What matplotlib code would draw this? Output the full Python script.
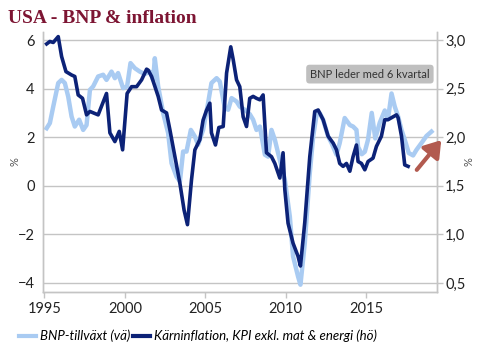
import matplotlib
matplotlib.use("Agg")
import matplotlib.pyplot as plt
from matplotlib.ticker import FuncFormatter

# BNP-tillväxt (vänster axel, %), förskjuten 6 kvartal framåt
bnp_years = [1995.14, 1995.34, 1995.55, 1995.86, 1996.07, 1996.27, 1996.48, 1996.69, 1996.89,
             1997.16, 1997.41, 1997.62, 1997.83, 1998.03, 1998.34, 1998.65, 1998.86, 1999.17,
             1999.38, 1999.58, 1999.89, 2000.14, 2000.35, 2000.62, 2000.93, 2001.24, 2001.55,
             2001.76, 2001.86, 2002.07, 2002.38, 2002.69, 2002.90, 2003.21, 2003.42, 2003.62,
             2003.83, 2004.10, 2004.35, 2004.55, 2004.86, 2005.17, 2005.38, 2005.70, 2005.90,
             2006.21, 2006.42, 2006.63, 2006.94, 2007.14, 2007.45, 2007.76, 2007.97, 2008.18,
             2008.39, 2008.70, 2008.90, 2009.11, 2009.32, 2009.52, 2009.73, 2009.94, 2010.25,
             2010.45, 2010.76, 2010.91, 2011.18, 2011.49, 2011.70, 2011.91, 2012.11, 2012.32,
             2012.63, 2012.84, 2013.15, 2013.35, 2013.66, 2013.98, 2014.18, 2014.39, 2014.49,
             2014.72, 2014.91, 2015.11, 2015.34, 2015.56, 2015.84, 2016.15, 2016.35, 2016.57,
             2016.77, 2016.98, 2017.19, 2017.39, 2017.64, 2017.91, 2018.12, 2018.43, 2018.74,
             2019.05]
bnp = [2.37, 2.58, 3.26, 4.23, 4.36, 4.23, 3.67, 2.85, 2.44,
       2.72, 2.30, 2.50, 3.95, 4.09, 4.50, 4.57, 4.36, 4.70,
       4.43, 4.64, 4.02, 4.09, 5.05, 4.84, 4.70, 4.60, 4.70,
       4.36, 5.25, 4.09, 2.99, 2.17, 0.93, 0.38, 0.18, 1.41,
       1.41, 2.30, 2.03, 1.69, 2.30, 3.40, 4.23, 4.43, 4.29,
       3.20, 3.13, 3.61, 3.47, 3.26, 3.13, 2.95, 2.72, 2.30,
       2.44, 1.28, 1.20, 2.30, 1.90, 1.35, 0.80, 0.25, -1.26,
       -2.90, -3.73, -4.07, -2.36, 0.52, 2.03, 2.92, 2.99, 2.72,
       2.03, 1.76, 1.28, 1.76, 2.79, 2.50, 2.44, 2.30, 1.60,
       1.30, 1.40, 1.90, 3.00, 1.95, 2.60, 3.10, 2.75, 3.80,
       3.26, 2.85, 2.30, 1.90, 1.35, 1.25, 1.48, 1.76, 2.05,
       2.23]

# Kärninflation, KPI exkl. mat & energi (höger axel, %)
kpi_years = [1995.14, 1995.34, 1995.55, 1995.86, 1996.07, 1996.34, 1996.69, 1996.89, 1997.10,
             1997.37, 1997.62, 1997.83, 1998.34, 1998.86, 1999.07, 1999.38, 1999.65, 1999.86,
             2000.14, 2000.42, 2000.73, 2001.04, 2001.35, 2001.45, 2001.66, 2002.07, 2002.28,
             2002.59, 2002.80, 2003.11, 2003.42, 2003.68, 2003.89, 2004.14, 2004.35, 2004.66,
             2004.86, 2005.07, 2005.28, 2005.38, 2005.63, 2005.84, 2006.11, 2006.32, 2006.58,
             2006.73, 2006.94, 2007.14, 2007.35, 2007.56, 2007.76, 2007.97, 2008.18, 2008.39,
             2008.59, 2008.80, 2009.11, 2009.32, 2009.63, 2009.83, 2009.94, 2010.14, 2010.45,
             2010.76, 2010.91, 2011.18, 2011.49, 2011.80, 2012.01, 2012.32, 2012.63, 2012.94,
             2013.15, 2013.35, 2013.56, 2013.77, 2013.98, 2014.18, 2014.39, 2014.49, 2014.70,
             2014.91, 2015.11, 2015.42, 2015.63, 2015.94, 2016.15, 2016.35, 2016.88, 2016.98,
             2017.19, 2017.39, 2017.60]
kpi = [2.960, 2.985, 2.975, 3.035, 2.830, 2.675, 2.640, 2.625, 2.435,
       2.400, 2.230, 2.265, 2.230, 2.450, 2.045, 1.955, 2.060, 1.870,
       2.450, 2.520, 2.520, 2.590, 2.700, 2.690, 2.625, 2.420, 2.280,
       2.250, 2.075, 1.800, 1.525, 1.250, 1.100, 1.560, 1.870, 1.975,
       2.175, 2.275, 2.350, 2.045, 1.920, 2.100, 2.110, 2.660, 2.930,
       2.800, 2.590, 2.520, 2.210, 2.110, 2.400, 2.420, 2.400, 2.385,
       2.435, 1.840, 1.800, 1.730, 1.580, 1.840, 1.460, 1.115, 0.910,
       0.775, 0.675, 1.125, 1.800, 2.265, 2.280, 2.180, 2.010, 1.940,
       1.870, 1.730, 1.700, 1.730, 1.650, 1.800, 1.920, 1.750, 1.730,
       1.665, 1.750, 1.785, 1.905, 2.010, 2.180, 2.180, 2.230, 2.200,
       2.010, 1.715, 1.700]

x_ticks = [1995, 2000, 2005, 2010, 2015]
left_ticks = [-4, -2, 0, 2, 4, 6]
right_ticks = [0.5, 1.0, 1.5, 2.0, 2.5, 3.0]

light = "#A9CBF2"
navy = "#0C2277"
grid = "#C4C4C4"
txt = "#222222"

plt.rcParams["font.family"] = ["Lato", "DejaVu Sans"]

fig = plt.figure(figsize=(4.88, 3.58), dpi=100)
ax = fig.add_axes([0.088, 0.1844, 0.807, 0.7262])
ax2 = ax.twinx()

ax.set_xlim(1994.91, 2019.38)
ax.set_ylim(-4.37, 6.33)
ax2.set_ylim(1.5 + (-4.37) / 4, 1.5 + 6.33 / 4)

ax.plot(bnp_years, bnp, color=light, lw=3.2, solid_joinstyle="round", zorder=2)
ax2.plot(kpi_years, kpi, color=navy, lw=2.6, solid_joinstyle="round", zorder=3)

ax.set_yticks(left_ticks)
ax2.set_yticks(right_ticks)
ax.set_xticks(x_ticks)
ax.grid(axis="y", color=grid, lw=1.0)
ax.set_axisbelow(True)

ax2.yaxis.set_major_formatter(FuncFormatter(lambda v, p: f"{v:.1f}".replace(".", ",")))

for a in (ax, ax2):
    a.spines["top"].set_visible(False)
    for s in ("left", "right", "bottom"):
        a.spines[s].set_color(grid)
        a.spines[s].set_linewidth(1.0)
    a.tick_params(colors=txt, labelsize=10.5, length=4, width=1.0)
    a.tick_params(axis="both", color=grid)
ax.tick_params(axis="y", length=0, pad=6)
ax2.tick_params(axis="y", length=4, pad=2)
ax.tick_params(axis="x", length=4, pad=3)

# enhetsetiketter på båda sidor
fig.text(15 / 488, 1 - 162 / 358, "%", color="#555555", fontsize=8, rotation=90,
         ha="center", va="center")
fig.text(469 / 488, 1 - 162 / 358, "%", color="#555555", fontsize=8, rotation=90,
         ha="center", va="center")

fig.text(0.016, 0.947, "USA - BNP & inflation", color="#7D1533", fontsize=14,
         fontweight="bold", family=["Liberation Serif", "DejaVu Serif"], va="center", ha="left")

ax.text(0.758, 0.793, "BNP leder med 6 kvartal", transform=fig.transFigure, ha="center",
        va="center", fontsize=8, color="#333333",
        bbox=dict(boxstyle="round,pad=0.35,rounding_size=0.3", fc="#BFBFBF", ec="none"))

fig.patches.append(matplotlib.patches.FancyArrowPatch(
    (415 / 488, 1 - 172 / 358), (443 / 488, 1 - 138 / 358), transform=fig.transFigure,
    arrowstyle="-|>,head_length=6,head_width=4", lw=3, color="#B25A4F", mutation_scale=1.6))

h1, = ax.plot([], [], color=light, lw=3)
h2, = ax.plot([], [], color=navy, lw=3)
fig.legend([h1, h2], ["BNP-tillväxt (vä)", "Kärninflation, KPI exkl. mat & energi (hö)"],
           loc="center left", bbox_to_anchor=(0.015, 0.061), ncol=2, frameon=False,
           handlelength=1.3, handletextpad=0.3, columnspacing=0.2,
           prop=dict(style="italic", size=9.5))

fig.savefig("out.png", dpi=100)
